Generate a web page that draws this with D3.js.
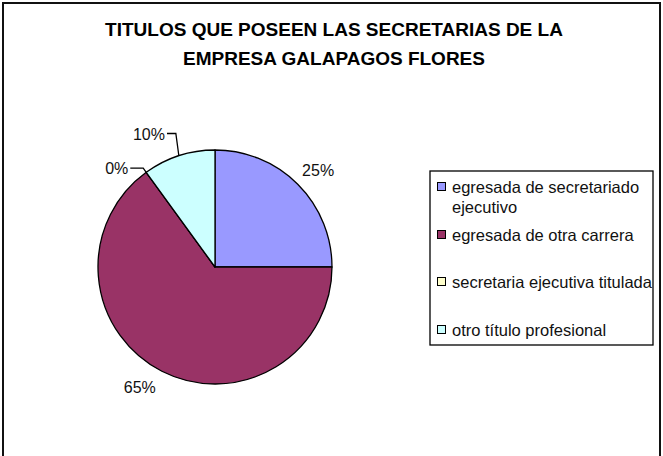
<!DOCTYPE html>
<html>
<head>
<meta charset="utf-8">
<script src="https://cdn.jsdelivr.net/npm/d3@7"></script>
<style>
  html, body { margin: 0; padding: 0; background: #fff; }
  svg { display: block; }
  text { font-family: "Liberation Sans", Arial, sans-serif; }
</style>
</head>
<body>
<svg id="chart" width="663" height="456"></svg>
<script>
// ---- data ----
const titleLines = ["TITULOS QUE POSEEN LAS SECRETARIAS DE LA", "EMPRESA GALAPAGOS FLORES"];
const categories = [
  "egresada de secretariado ejecutivo",
  "egresada de otra carrera",
  "secretaria ejecutiva titulada",
  "otro título profesional"
];
const values = [25, 65, 0, 10];
const valueLabels = ["25%", "65%", "0%", "10%"];
const legendLines = [
  ["egresada de secretariado", "ejecutivo"],
  ["egresada de otra carrera"],
  ["secretaria ejecutiva titulada"],
  ["otro título profesional"]
];
const colors = ["#9999FF", "#993366", "#FFFFCC", "#CCFFFF"];

// ---- layout ----
const W = 663, H = 456;
const cx = 215, cy = 267, R = 117;
// label placement (radius, angle shift in degrees) and whether a leader line is used
const labelLayout = [
  { r: 141, shift: 2, leader: false },
  { r: 142, shift: 5, leader: false },
  { r: 139, shift: -9, leader: true },
  { r: 148.5, shift: -8.4, leader: true }
];

const svg = d3.select("#chart");

// outer chart border
svg.append("rect")
  .attr("x", 3).attr("y", 3)
  .attr("width", 657).attr("height", H + 10)
  .attr("fill", "#fff").attr("stroke", "#111").attr("stroke-width", 2);

// title
const title = svg.append("text")
  .attr("x", 334).attr("y", 36)
  .attr("text-anchor", "middle")
  .style("font-size", "19px").style("font-weight", "bold").attr("fill", "#000");
titleLines.forEach((t, i) => {
  title.append("tspan").attr("x", 334).attr("dy", i === 0 ? 0 : 29).text(t);
});

// pie
const pie = d3.pie().sort(null).value(d => d)(values);
const arc = d3.arc().innerRadius(0).outerRadius(R);
const g = svg.append("g").attr("transform", `translate(${cx},${cy})`);

g.selectAll("path.slice")
  .data(pie)
  .join("path")
  .attr("class", "slice")
  .attr("d", arc)
  .attr("fill", (d, i) => colors[i])
  .attr("stroke", "#000")
  .attr("stroke-width", 1.3)
  .attr("stroke-linejoin", "round");

// labels
const deg = Math.PI / 180;
pie.forEach((d, i) => {
  const mid = (d.startAngle + d.endAngle) / 2;
  const L = labelLayout[i];
  const a = mid + L.shift * deg;
  const lx = L.r * Math.sin(a), ly = -L.r * Math.cos(a);
  const txt = g.append("text")
    .attr("x", lx).attr("y", ly)
    .attr("dy", "0.35em")
    .attr("text-anchor", "middle")
    .style("font-size", "16px")
    .attr("fill", "#111")
    .text(valueLabels[i]);
  if (L.leader) {
    const w = txt.node().getComputedTextLength();
    const px = R * Math.sin(mid), py = -R * Math.cos(mid);
    const endX = lx + w / 2 + 2;
    const elbowX = px - 3;
    g.append("polyline")
      .attr("points", [[px, py], [elbowX, ly - 0.5], [endX, ly - 0.5]].map(p => p.join(",")).join(" "))
      .attr("fill", "none").attr("stroke", "#000").attr("stroke-width", 1.3);
  }
});

// legend
const lg = svg.append("g");
lg.append("rect")
  .attr("x", 430).attr("y", 171)
  .attr("width", 223).attr("height", 174)
  .attr("fill", "#fff").attr("stroke", "#000").attr("stroke-width", 1.3);

const rowYs = [187, 235, 282, 330];
categories.forEach((c, i) => {
  const y = rowYs[i];
  lg.append("rect")
    .attr("x", 437.5).attr("y", y - 4.5)
    .attr("width", 8).attr("height", 8)
    .attr("fill", colors[i]).attr("stroke", "#000").attr("stroke-width", 1);
  const t = lg.append("text")
    .attr("x", 452).attr("y", y)
    .style("font-size", "16.5px").attr("fill", "#111");
  legendLines[i].forEach((ln, j) => {
    t.append("tspan").attr("x", 452).attr("dy", j === 0 ? "0.35em" : 20).text(ln);
  });
});
</script>
</body>
</html>
